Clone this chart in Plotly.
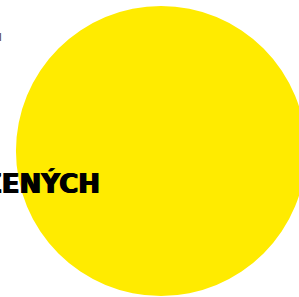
import plotly.graph_objects as go

labels = ["ZOBRAZENÝCH"]
values = [100]
colors = ["#FFEB00"]
title_text = "ZOBRAZENÝCH"
small_text = "l"

W, H = 320, 297
L, T, S = 16, 6, 290  # left margin, top margin, plot size
fig = go.Figure(go.Pie(
    labels=labels, values=values, marker=dict(colors=colors, line=dict(width=0)),
    textinfo="none", hoverinfo="none", sort=False, showlegend=False,
    domain=dict(x=[0, 1], y=[0, 1]),
))
fig.update_layout(
    width=W, height=H,
    margin=dict(l=L, r=W - L - S, t=T, b=H - T - S, pad=0),
    paper_bgcolor="white", plot_bgcolor="white",
    annotations=[
        dict(text="<b>" + title_text + "</b>", xref="paper", yref="paper",
             x=(101.5 - L) / S, y=(T + S - 183) / S, xanchor="right", yanchor="middle",
             showarrow=False,
             font=dict(family="DejaVu Sans", size=26, color="black",
                       shadow="0.7px 0 0 black, -0.7px 0 0 black")),
        dict(text=small_text, xref="paper", yref="paper",
             x=(3.5 - L) / S, y=(T + S - 37.5) / S, xanchor="right", yanchor="middle",
             showarrow=False, font=dict(family="DejaVu Sans", size=10, color="#333")),
    ],
)
fig.write_html("out.html", config={"displayModeBar": False},
               post_script="document.body.style.margin='0';document.body.style.overflow='hidden';")
